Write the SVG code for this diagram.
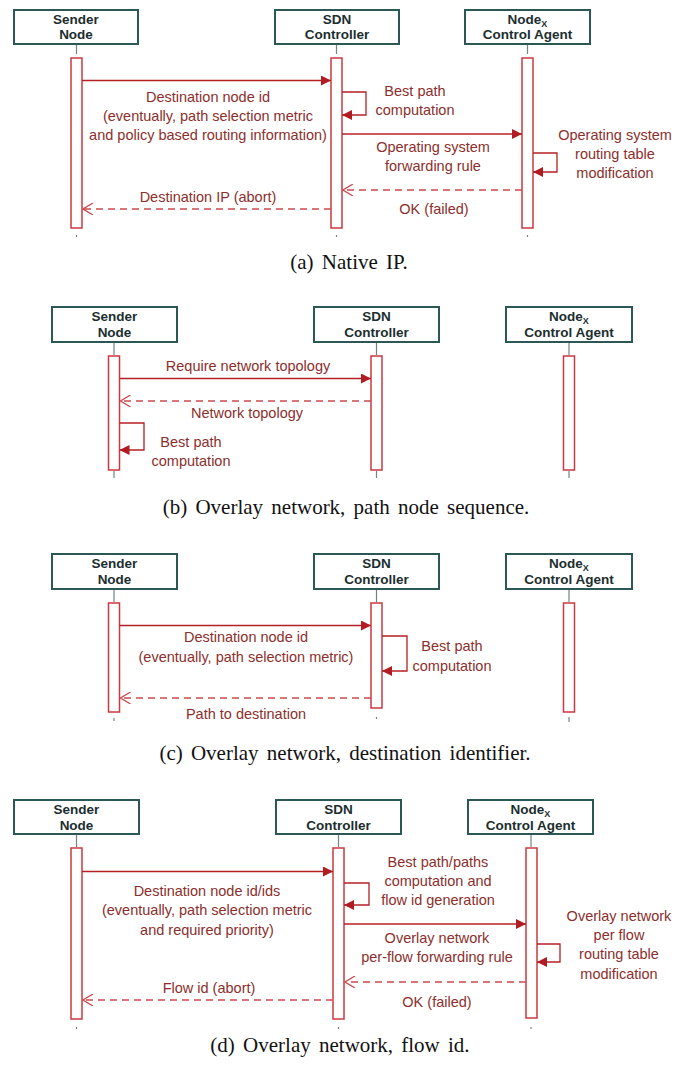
<svg xmlns="http://www.w3.org/2000/svg" width="686" height="1065" viewBox="0 0 686 1065">
  <defs>
    <style>
      .hdr { fill: #ffffff; stroke: #2b5757; stroke-width: 2; }
      .htxt { font-family: "Liberation Sans", Arial, sans-serif; font-weight: bold; font-size: 13.5px; fill: #1c2e2e; text-anchor: middle; }
      .sub { font-size: 9px; }
      .tick { stroke: #6f8585; stroke-width: 1.2; }
      .act { fill: #ffffff; stroke: #cc3a40; stroke-width: 1.5; }
      .msg { stroke: #b52026; stroke-width: 1.3; fill: none; }
      .ret { stroke: #cc4a4e; stroke-width: 1.3; fill: none; stroke-dasharray: 7 5; }
      .lbl { font-family: "Liberation Sans", Arial, sans-serif; font-size: 14.5px; fill: #8c2f2c; text-anchor: middle; }
      .cap { font-family: "Liberation Serif", "Times New Roman", serif; font-size: 21px; word-spacing: 3px; fill: #111111; text-anchor: middle; }
    </style>
    <marker id="arrF" viewBox="0 0 10 10" refX="10" refY="5" markerWidth="10" markerHeight="10" markerUnits="userSpaceOnUse" orient="auto">
      <path d="M0,0 L10,5 L0,10 z" fill="#b01c22"/>
    </marker>
    <marker id="arrO" viewBox="0 0 12 12" refX="11" refY="6" markerWidth="12" markerHeight="12" markerUnits="userSpaceOnUse" orient="auto">
      <path d="M1,0 L11,6 L1,12" fill="none" stroke="#cc4a4e" stroke-width="1.3"/>
    </marker>
  </defs>
  <rect width="686" height="1065" fill="#ffffff"/>

  <!-- ===== (a) Native IP ===== -->
  <g id="a-sender">
    <rect class="hdr" x="14" y="10" width="124" height="34"/>
    <text class="htxt" x="76" y="24">Sender</text>
    <text class="htxt" x="76" y="39">Node</text>
    <line class="tick" x1="76.5" y1="45" x2="76.5" y2="54"/>
    <rect class="act" x="71" y="58" width="11" height="170"/>
    <line class="tick" x1="76.5" y1="235" x2="76.5" y2="237"/>
  </g>
  <g id="a-sdn">
    <rect class="hdr" x="275" y="10" width="124" height="34"/>
    <text class="htxt" x="337" y="24">SDN</text>
    <text class="htxt" x="337" y="39">Controller</text>
    <line class="tick" x1="336.5" y1="45" x2="336.5" y2="54"/>
    <rect class="act" x="331" y="58" width="11" height="170"/>
    <line class="tick" x1="336.5" y1="235" x2="336.5" y2="237"/>
  </g>
  <g id="a-nodex">
    <rect class="hdr" x="465" y="10" width="125" height="34"/>
    <text class="htxt" x="527.5" y="24">Node<tspan class="sub" dy="3">X</tspan></text>
    <text class="htxt" x="527.5" y="39">Control Agent</text>
    <line class="tick" x1="527.5" y1="45" x2="527.5" y2="54"/>
    <rect class="act" x="522" y="58" width="11" height="170"/>
    <line class="tick" x1="527.5" y1="235" x2="527.5" y2="237"/>
  </g>
  <g id="a-connectors">
    <line class="msg" x1="82" y1="80.5" x2="331" y2="80.5" marker-end="url(#arrF)"/>
    <polyline class="msg" points="342,92 366,92 366,115 342,115" marker-end="url(#arrF)"/>
    <line class="msg" x1="342" y1="134" x2="522" y2="134" marker-end="url(#arrF)"/>
    <polyline class="msg" points="533,153 557,153 557,172 533,172" marker-end="url(#arrF)"/>
    <line class="ret" x1="522" y1="190" x2="343" y2="190" marker-end="url(#arrO)"/>
    <line class="ret" x1="331" y1="209" x2="83" y2="209" marker-end="url(#arrO)"/>
  </g>
  <g id="a-labels">
    <text class="lbl" x="208" y="102">Destination node id</text>
    <text class="lbl" x="208" y="120.5">(eventually, path selection metric</text>
    <text class="lbl" x="208" y="139.5">and policy based routing information)</text>
    <text class="lbl" x="415" y="96">Best path</text>
    <text class="lbl" x="415" y="115">computation</text>
    <text class="lbl" x="433" y="152">Operating system</text>
    <text class="lbl" x="433" y="171">forwarding rule</text>
    <text class="lbl" x="615" y="140">Operating system</text>
    <text class="lbl" x="615" y="159">routing table</text>
    <text class="lbl" x="615" y="178">modification</text>
    <text class="lbl" x="434" y="214">OK (failed)</text>
    <text class="lbl" x="208" y="202">Destination IP (abort)</text>
  </g>
  <text class="cap" x="349" y="269">(a) Native IP.</text>

  <!-- ===== (b) Overlay network, path node sequence ===== -->
  <g id="b-sender">
    <rect class="hdr" x="52" y="307" width="125" height="35"/>
    <text class="htxt" x="114.5" y="321">Sender</text>
    <text class="htxt" x="114.5" y="336.5">Node</text>
    <line class="tick" x1="114" y1="343" x2="114" y2="355"/>
    <rect class="act" x="108.5" y="356" width="11" height="114"/>
    <line class="tick" x1="114" y1="471" x2="114" y2="478"/>
  </g>
  <g id="b-sdn">
    <rect class="hdr" x="314" y="307" width="125" height="35"/>
    <text class="htxt" x="376.5" y="321">SDN</text>
    <text class="htxt" x="376.5" y="336.5">Controller</text>
    <line class="tick" x1="376.5" y1="343" x2="376.5" y2="355"/>
    <rect class="act" x="371" y="356" width="11" height="114"/>
    <line class="tick" x1="376.5" y1="471" x2="376.5" y2="478"/>
  </g>
  <g id="b-nodex">
    <rect class="hdr" x="506" y="307" width="126" height="35"/>
    <text class="htxt" x="569" y="321">Node<tspan class="sub" dy="3">X</tspan></text>
    <text class="htxt" x="569" y="336.5">Control Agent</text>
    <line class="tick" x1="569" y1="343" x2="569" y2="355"/>
    <rect class="act" x="563.5" y="356" width="11" height="114"/>
    <line class="tick" x1="569" y1="471" x2="569" y2="478"/>
  </g>
  <g id="b-connectors">
    <line class="msg" x1="119.5" y1="378.5" x2="371" y2="378.5" marker-end="url(#arrF)"/>
    <line class="ret" x1="371" y1="401" x2="120.5" y2="401" marker-end="url(#arrO)"/>
    <polyline class="msg" points="119.5,423 144,423 144,450 119.5,450" marker-end="url(#arrF)"/>
  </g>
  <g id="b-labels">
    <text class="lbl" x="248" y="371">Require network topology</text>
    <text class="lbl" x="247" y="418">Network topology</text>
    <text class="lbl" x="191" y="447">Best path</text>
    <text class="lbl" x="191" y="466">computation</text>
  </g>
  <text class="cap" x="346" y="514">(b) Overlay network, path node sequence.</text>

  <!-- ===== (c) Overlay network, destination identifier ===== -->
  <g id="c-sender">
    <rect class="hdr" x="52" y="554" width="125" height="35"/>
    <text class="htxt" x="114.5" y="568">Sender</text>
    <text class="htxt" x="114.5" y="583.5">Node</text>
    <line class="tick" x1="114" y1="590" x2="114" y2="602"/>
    <rect class="act" x="108.5" y="603" width="11" height="109"/>
    <line class="tick" x1="114" y1="718" x2="114" y2="721"/>
  </g>
  <g id="c-sdn">
    <rect class="hdr" x="314" y="554" width="125" height="35"/>
    <text class="htxt" x="376.5" y="568">SDN</text>
    <text class="htxt" x="376.5" y="583.5">Controller</text>
    <line class="tick" x1="376.5" y1="590" x2="376.5" y2="602"/>
    <rect class="act" x="371" y="603" width="11" height="105"/>
    <line class="tick" x1="376.5" y1="717" x2="376.5" y2="719"/>
  </g>
  <g id="c-nodex">
    <rect class="hdr" x="506" y="554" width="126" height="35"/>
    <text class="htxt" x="569" y="568">Node<tspan class="sub" dy="3">X</tspan></text>
    <text class="htxt" x="569" y="583.5">Control Agent</text>
    <line class="tick" x1="569" y1="590" x2="569" y2="602"/>
    <rect class="act" x="563.5" y="603" width="11" height="109"/>
    <line class="tick" x1="569" y1="717" x2="569" y2="722"/>
  </g>
  <g id="c-connectors">
    <line class="msg" x1="119.5" y1="625.5" x2="371" y2="625.5" marker-end="url(#arrF)"/>
    <polyline class="msg" points="382,636 407,636 407,671 382,671" marker-end="url(#arrF)"/>
    <line class="ret" x1="371" y1="698" x2="120.5" y2="698" marker-end="url(#arrO)"/>
  </g>
  <g id="c-labels">
    <text class="lbl" x="246" y="642">Destination node id</text>
    <text class="lbl" x="246" y="662">(eventually, path selection metric)</text>
    <text class="lbl" x="452" y="651">Best path</text>
    <text class="lbl" x="452" y="671">computation</text>
    <text class="lbl" x="246" y="719">Path to destination</text>
  </g>
  <text class="cap" x="345" y="760">(c) Overlay network, destination identifier.</text>

  <!-- ===== (d) Overlay network, flow id ===== -->
  <g id="d-sender">
    <rect class="hdr" x="14" y="800" width="125" height="34"/>
    <text class="htxt" x="76.5" y="814">Sender</text>
    <text class="htxt" x="76.5" y="829.5">Node</text>
    <line class="tick" x1="76.5" y1="835" x2="76.5" y2="847"/>
    <rect class="act" x="71" y="848" width="11" height="171"/>
    <line class="tick" x1="76.5" y1="1027" x2="76.5" y2="1029"/>
  </g>
  <g id="d-sdn">
    <rect class="hdr" x="276" y="800" width="125" height="34"/>
    <text class="htxt" x="338.5" y="814">SDN</text>
    <text class="htxt" x="338.5" y="829.5">Controller</text>
    <line class="tick" x1="338.5" y1="835" x2="338.5" y2="847"/>
    <rect class="act" x="333" y="848" width="11" height="171"/>
    <line class="tick" x1="338.5" y1="1027" x2="338.5" y2="1029"/>
  </g>
  <g id="d-nodex">
    <rect class="hdr" x="468" y="800" width="125" height="34"/>
    <text class="htxt" x="530.5" y="814">Node<tspan class="sub" dy="3">X</tspan></text>
    <text class="htxt" x="530.5" y="829.5">Control Agent</text>
    <line class="tick" x1="531" y1="835" x2="531" y2="847"/>
    <rect class="act" x="526" y="848" width="11" height="170"/>
    <line class="tick" x1="531" y1="1027" x2="531" y2="1029"/>
  </g>
  <g id="d-connectors">
    <line class="msg" x1="82" y1="871.5" x2="333" y2="871.5" marker-end="url(#arrF)"/>
    <polyline class="msg" points="344,883 369,883 369,905 344,905" marker-end="url(#arrF)"/>
    <line class="msg" x1="344" y1="924" x2="526" y2="924" marker-end="url(#arrF)"/>
    <polyline class="msg" points="537,944 560,944 560,962 537,962" marker-end="url(#arrF)"/>
    <line class="ret" x1="526" y1="982" x2="345" y2="982" marker-end="url(#arrO)"/>
    <line class="ret" x1="333" y1="1000" x2="83" y2="1000" marker-end="url(#arrO)"/>
  </g>
  <g id="d-labels">
    <text class="lbl" x="207" y="896">Destination node id/ids</text>
    <text class="lbl" x="207" y="915">(eventually, path selection metric</text>
    <text class="lbl" x="207" y="935">and required priority)</text>
    <text class="lbl" x="438" y="867">Best path/paths</text>
    <text class="lbl" x="438" y="886">computation and</text>
    <text class="lbl" x="438" y="905">flow id generation</text>
    <text class="lbl" x="437" y="943">Overlay network</text>
    <text class="lbl" x="437" y="962">per-flow forwarding rule</text>
    <text class="lbl" x="619" y="921">Overlay network</text>
    <text class="lbl" x="619" y="940">per flow</text>
    <text class="lbl" x="619" y="959">routing table</text>
    <text class="lbl" x="619" y="979">modification</text>
    <text class="lbl" x="437" y="1007">OK (failed)</text>
    <text class="lbl" x="209" y="993">Flow id (abort)</text>
  </g>
  <text class="cap" x="340" y="1052">(d) Overlay network, flow id.</text>
</svg>
